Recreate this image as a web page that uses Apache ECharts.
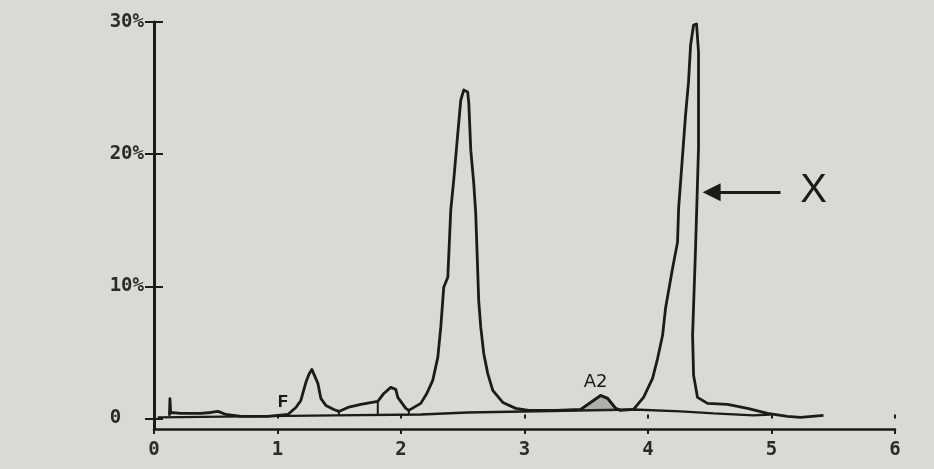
<!DOCTYPE html>
<html>
<head>
<meta charset="utf-8">
<script src="https://cdn.jsdelivr.net/npm/echarts@6/dist/echarts.min.js"></script>
<style>
html,body{margin:0;padding:0;background:#dad9d4;}
#chart{width:934px;height:469px;}
</style>
</head>
<body>
<div id="chart"></div>
<script>
// Elution time (x) and relative amount in % (y) of the recorded trace
var traceX = [0.125,0.129,0.135,0.218,0.380,0.461,0.518,0.583,0.704,0.922,1.084,1.149,1.189,1.230,1.254,1.278,1.294,1.327,1.351,1.392,1.456,1.497,1.570,1.675,1.812,1.861,1.917,1.958,1.974,2.039,2.063,2.160,2.209,2.257,2.298,2.322,2.346,2.379,2.403,2.427,2.460,2.484,2.508,2.540,2.549,2.565,2.589,2.605,2.621,2.629,2.646,2.670,2.702,2.743,2.824,2.929,3.034,3.252,3.455,3.536,3.617,3.673,3.738,3.778,3.883,3.964,4.037,4.078,4.118,4.142,4.199,4.239,4.248,4.280,4.304,4.328,4.345,4.369,4.393,4.409,4.409,4.401,4.385,4.361,4.369,4.401,4.482,4.644,4.806,4.968,5.129,5.235,5.421];
var traceY = [0.2,1.5,0.45,0.38,0.38,0.45,0.53,0.3,0.15,0.15,0.3,0.83,1.36,2.73,3.33,3.71,3.71,2.65,1.52,0.98,0.68,0.53,0.83,1.06,1.29,1.89,2.35,2.2,1.59,0.76,0.61,1.14,1.89,2.88,4.62,6.89,9.92,10.68,15.76,18.03,21.59,24.09,24.85,24.7,23.86,20.3,17.8,15.53,11.21,8.94,6.89,4.92,3.41,2.12,1.21,0.76,0.61,0.61,0.68,1.21,1.74,1.52,0.76,0.61,0.68,1.59,3.03,4.55,6.29,8.33,11.36,13.33,15.91,19.92,22.95,25.45,28.26,29.77,29.85,27.73,20.45,17.88,12.88,6.29,3.26,1.59,1.14,1.06,0.76,0.38,0.15,0.08,0.23];

// Integration baseline
var baseX = [0.03,1.456,2.160,2.540,3.883,4.264,4.531,4.854,4.992];
var baseY = [0.08,0.23,0.30,0.45,0.68,0.53,0.38,0.23,0.30];

// Peak separation drop lines
var dropX = [1.497,1.812,2.063];
var dropTop = [0.53,1.29,0.61];
var dropBottom = [0.23,0.26,0.29];

// A2 (shaded) peak
var a2X = [3.455,3.536,3.617,3.673,3.738,3.778];
var a2Y = [0.68,1.21,1.74,1.52,0.76,0.61];

// Tick labels
var xTicks = [0,1,2,3,4,5,6];
var yTicks = [0,10,20,30];

// Annotations
var labelF = {text:'F', x:1.044, y:1.21};
var labelA2 = {text:'A2', x:3.576, y:2.73};
var labelX = {text:'X', x:5.34, y:17.2};
var arrowFrom = [5.073, 17.12];
var arrowTo = [4.515, 17.12];

function pairs(xs, ys){ return xs.map(function(x,i){ return [x, ys[i]]; }); }

var INK = '#1b1b1b';
var monoFont = 'DejaVu Sans Mono';

var series = [];
series.push({
  type:'line', name:'base', data: pairs(baseX, baseY), symbol:'none',
  lineStyle:{color:INK, width:2.4}, silent:true, z:2
});
dropX.forEach(function(x,i){
  series.push({
    type:'line', data:[[x, dropTop[i]],[x, dropBottom[i]]], symbol:'none',
    lineStyle:{color:INK, width:2}, silent:true, z:2
  });
});
series.push({
  type:'line', name:'A2', data: pairs(a2X, a2Y), symbol:'none',
  lineStyle:{color:INK, width:2.5},
  areaStyle:{origin:0.62, color:'rgba(70,70,70,0.4)'}, silent:true, z:3
});
series.push({
  type:'line', name:'trace', data: pairs(traceX, traceY), symbol:'none',
  lineStyle:{color:INK, width:2.8, join:'round'}, silent:true, z:4,
  markPoint:{
    symbol:'rect', symbolSize:1, itemStyle:{color:'transparent'}, silent:true,
    data:[
      {coord:[labelF.x, labelF.y], label:{show:true, position:'inside', formatter:labelF.text, fontFamily:'Liberation Mono', fontWeight:'bold', fontSize:18, color:INK}},
      {coord:[labelA2.x, labelA2.y], label:{show:true, position:'inside', formatter:labelA2.text, fontFamily:'DejaVu Sans', fontSize:18, color:INK}},
      {coord:[labelX.x, labelX.y], label:{show:true, position:'inside', formatter:labelX.text, fontFamily:'Liberation Sans', fontSize:40, color:INK}}
    ]
  },
  markLine:{
    silent:true, symbol:['none','triangle'], symbolSize:18,
    label:{show:false},
    lineStyle:{color:INK, width:3, type:'solid'},
    data:[[{coord:arrowFrom},{coord:arrowTo}]]
  }
});

var chart = echarts.init(document.getElementById('chart'), null, {renderer:'canvas'});
chart.setOption({
  animation:false,
  backgroundColor:'#dad9d4',
  grid:{left:154, right:39, top:22, bottom:40},
  xAxis:[{
    type:'value', min:0, max:6, interval:1,
    axisLine:{show:true, onZero:false, lineStyle:{color:INK, width:2.5}},
    axisTick:{show:true, length:5, lineStyle:{color:INK, width:2}},
    axisLabel:{show:true, margin:12, fontFamily:monoFont, fontWeight:'bold', fontSize:19, color:'#2a2a2a',
      formatter:function(v){ return xTicks.indexOf(v) >= 0 ? String(v) : ''; }},
    splitLine:{show:false}
  },{
    type:'value', min:0, max:6, interval:1, position:'bottom', offset:0,
    axisLine:{show:false}, axisTick:{show:true, inside:true, length:4, lineStyle:{color:INK, width:2}},
    axisLabel:{show:false}, splitLine:{show:false}
  }],
  yAxis:[{
    type:'value', min:-0.8, max:30,
    axisLine:{show:true, onZero:false, lineStyle:{color:INK, width:3}},
    axisTick:{show:true, length:9, customValues:yTicks, lineStyle:{color:INK, width:2}},
    axisLabel:{show:true, margin:10, customValues:yTicks, fontFamily:monoFont, fontWeight:'bold', fontSize:19, color:'#2a2a2a',
      formatter:function(v){ return v === 0 ? '0  ' : v + '%'; }},
    splitLine:{show:false}
  },{
    type:'value', min:-0.8, max:30, position:'left', offset:0,
    axisLine:{show:false},
    axisTick:{show:true, inside:true, length:9, customValues:yTicks, lineStyle:{color:INK, width:2}},
    axisLabel:{show:false}, splitLine:{show:false}
  }],
  series: series
});
</script>
</body>
</html>
